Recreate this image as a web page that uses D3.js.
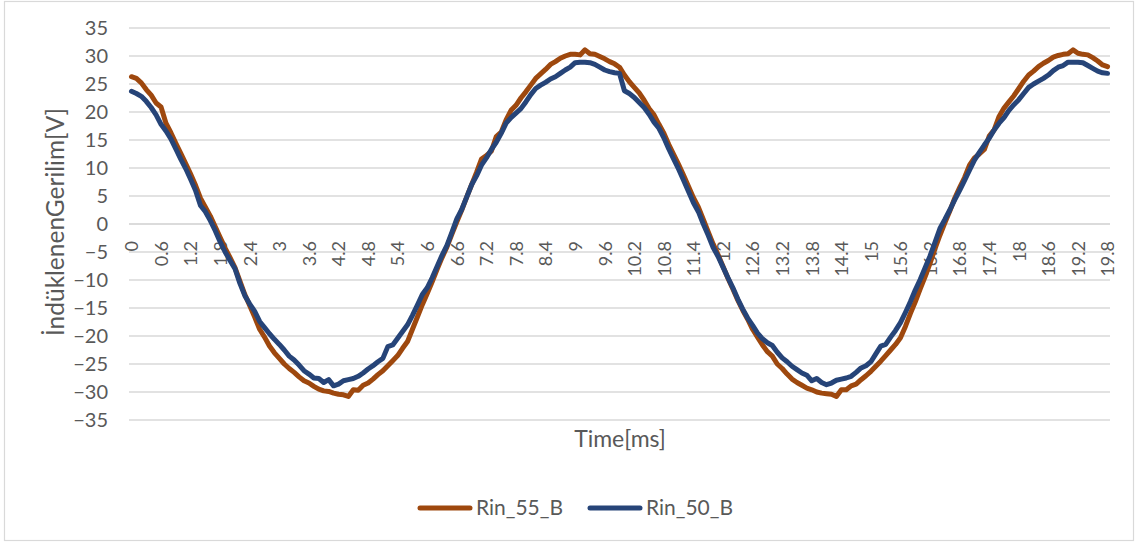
<!DOCTYPE html>
<html>
<head>
<meta charset="utf-8">
<script src="https://cdn.jsdelivr.net/npm/d3@7"></script>
<style>
  html, body { margin: 0; padding: 0; background: #ffffff; }
  svg { display: block; }
  text { font-family: Lato, "Liberation Sans", sans-serif; fill: #595959; }
</style>
</head>
<body>
<svg id="chart" width="1140" height="546"></svg>
<script>
// Categories: time in ms, 0 to 19.8 step 0.1
const categories = [
  "0","0.1","0.2","0.3","0.4","0.5","0.6","0.7","0.8","0.9",
  "1","1.1","1.2","1.3","1.4","1.5","1.6","1.7","1.8","1.9",
  "2","2.1","2.2","2.3","2.4","2.5","2.6","2.7","2.8","2.9",
  "3","3.1","3.2","3.3","3.4","3.5","3.6","3.7","3.8","3.9",
  "4","4.1","4.2","4.3","4.4","4.5","4.6","4.7","4.8","4.9",
  "5","5.1","5.2","5.3","5.4","5.5","5.6","5.7","5.8","5.9",
  "6","6.1","6.2","6.3","6.4","6.5","6.6","6.7","6.8","6.9",
  "7","7.1","7.2","7.3","7.4","7.5","7.6","7.7","7.8","7.9",
  "8","8.1","8.2","8.3","8.4","8.5","8.6","8.7","8.8","8.9",
  "9","9.1","9.2","9.3","9.4","9.5","9.6","9.7","9.8","9.9",
  "10","10.1","10.2","10.3","10.4","10.5","10.6","10.7","10.8","10.9",
  "11","11.1","11.2","11.3","11.4","11.5","11.6","11.7","11.8","11.9",
  "12","12.1","12.2","12.3","12.4","12.5","12.6","12.7","12.8","12.9",
  "13","13.1","13.2","13.3","13.4","13.5","13.6","13.7","13.8","13.9",
  "14","14.1","14.2","14.3","14.4","14.5","14.6","14.7","14.8","14.9",
  "15","15.1","15.2","15.3","15.4","15.5","15.6","15.7","15.8","15.9",
  "16","16.1","16.2","16.3","16.4","16.5","16.6","16.7","16.8","16.9",
  "17","17.1","17.2","17.3","17.4","17.5","17.6","17.7","17.8","17.9",
  "18","18.1","18.2","18.3","18.4","18.5","18.6","18.7","18.8","18.9",
  "19","19.1","19.2","19.3","19.4","19.5","19.6","19.7","19.8"
];

// Shown tick labels (every 6th category)
const xTickLabels = ["0","0.6","1.2","1.8","2.4","3","3.6","4.2","4.8","5.4","6","6.6","7.2","7.8","8.4","9","9.6","10.2","10.8","11.4","12","12.6","13.2","13.8","14.4","15","15.6","16.2","16.8","17.4","18","18.6","19.2","19.8"];
const yTicks = [-35,-30,-25,-20,-15,-10,-5,0,5,10,15,20,25,30,35];

const seriesNames = ["Rin_55_B", "Rin_50_B"];

const rin55 = [
  26.3,26.0,25.2,24.0,23.0,21.6,20.9,18.0,16.3,14.4,
  12.6,10.8,8.9,6.9,4.6,3.0,1.4,-0.5,-2.4,-4.3,
  -6.0,-7.8,-10.2,-12.6,-14.6,-16.6,-18.8,-20.2,-21.8,-23.0,
  -24.0,-25.0,-25.8,-26.5,-27.3,-28.0,-28.4,-29.0,-29.5,-29.8,
  -29.9,-30.2,-30.4,-30.5,-30.8,-29.6,-29.7,-28.8,-28.4,-27.7,
  -26.9,-26.2,-25.3,-24.4,-23.5,-22.2,-21.0,-18.8,-16.6,-14.4,
  -12.4,-10.3,-8.1,-6.0,-4.1,-1.8,0.4,2.5,4.8,7.0,
  9.2,11.6,12.2,13.0,15.6,16.4,18.6,20.3,21.2,22.5,
  23.6,24.8,26.0,26.8,27.6,28.5,29.0,29.6,30.0,30.3,
  30.3,30.2,31.1,30.4,30.3,29.9,29.5,29.0,28.6,28.0,
  26.6,25.4,24.4,23.4,22.1,20.6,19.5,17.8,16.2,14.2,
  12.4,10.6,8.7,6.7,4.7,3.0,0.8,-1.4,-3.6,-5.5,
  -7.6,-9.7,-11.6,-13.6,-15.4,-17.0,-18.8,-20.2,-21.6,-22.8,
  -23.6,-25.0,-25.8,-26.8,-27.7,-28.3,-28.8,-29.3,-29.6,-30.0,
  -30.2,-30.3,-30.4,-30.8,-29.6,-29.6,-28.9,-28.6,-27.8,-27.1,
  -26.3,-25.4,-24.5,-23.5,-22.5,-21.5,-20.3,-18.3,-16.0,-13.9,
  -11.6,-9.4,-7.0,-4.4,-2.0,0.2,2.3,4.6,6.5,8.3,
  10.5,11.8,12.5,13.3,15.7,16.8,19.2,20.7,21.8,22.9,
  24.2,25.5,26.6,27.3,28.1,28.7,29.2,29.8,30.1,30.3,
  30.4,31.1,30.5,30.3,30.2,29.7,29.1,28.4,28.1
];

const rin50 = [
  23.7,23.3,22.8,21.9,20.8,19.5,17.8,16.6,15.2,13.4,
  11.6,9.9,8.0,6.0,3.3,2.2,0.6,-1.2,-3.2,-5.0,
  -6.5,-8.0,-10.6,-12.8,-14.3,-15.6,-17.4,-18.5,-19.6,-20.6,
  -21.5,-22.5,-23.6,-24.3,-25.2,-26.2,-26.8,-27.5,-27.6,-28.3,
  -27.8,-28.9,-28.6,-28.0,-27.8,-27.6,-27.2,-26.6,-25.9,-25.3,
  -24.6,-24.0,-21.9,-21.6,-20.4,-19.2,-18.0,-16.3,-14.5,-12.6,
  -11.4,-9.6,-7.6,-5.6,-3.8,-1.5,0.9,2.6,4.8,7.0,
  8.6,10.5,11.8,13.3,14.6,16.2,18.0,19.0,19.8,20.6,
  21.8,23.1,24.2,24.8,25.3,25.9,26.3,26.9,27.5,28.0,
  28.8,28.9,28.9,28.8,28.5,28.0,27.5,27.2,27.0,26.9,
  23.8,23.3,22.6,21.7,20.8,19.6,18.2,17.1,15.4,13.4,
  11.6,9.8,7.8,5.8,3.8,2.2,0.0,-2.0,-4.2,-5.8,
  -7.7,-9.6,-11.4,-13.4,-15.2,-16.8,-18.1,-19.5,-20.5,-21.2,
  -21.7,-22.9,-23.9,-24.6,-25.4,-26.0,-26.6,-27.0,-28.0,-27.6,
  -28.3,-28.7,-28.4,-27.9,-27.7,-27.5,-27.2,-26.5,-25.7,-25.3,
  -24.6,-23.2,-21.8,-21.5,-20.2,-19.0,-17.6,-15.8,-13.9,-11.8,
  -9.9,-7.8,-5.7,-3.3,-0.8,0.8,2.5,4.3,6.0,7.8,
  9.6,11.4,12.8,14.1,15.3,16.8,18.0,19.0,20.3,21.3,
  22.2,23.3,24.4,25.0,25.5,26.0,26.6,27.4,28.0,28.3,
  28.9,28.9,28.9,28.8,28.3,27.8,27.3,27.0,26.9
];

const seriesColors = ["#9E480E", "#264478"];

const svg = d3.select("#chart");
const W = 1140, H = 546;

// chart frame
svg.append("rect")
  .attr("x", 4.5).attr("y", 1.5)
  .attr("width", W - 11).attr("height", H - 7)
  .attr("fill", "#ffffff")
  .attr("stroke", "#d9d9d9").attr("stroke-width", 1.2);

const plot = { left: 129, right: 1110, top: 28, bottom: 420 };

const x = d3.scalePoint()
  .domain(categories)
  .range([plot.left, plot.right])
  .padding(0.5);

const y = d3.scaleLinear()
  .domain([-35, 35])
  .range([plot.bottom, plot.top]);

// gridlines
svg.append("g")
  .selectAll("line")
  .data(yTicks)
  .join("line")
  .attr("x1", plot.left).attr("x2", plot.right)
  .attr("y1", d => y(d)).attr("y2", d => y(d))
  .attr("stroke", "#d9d9d9").attr("stroke-width", 1.3);

// y axis labels
const yAxis = d3.axisLeft(y).tickValues(yTicks).tickSize(0).tickPadding(0);
const gy = svg.append("g").attr("transform", `translate(${plot.left - 21},0)`).call(yAxis);
gy.select(".domain").remove();
gy.selectAll("text")
  .attr("font-size", 20)
  .attr("fill", "#595959")
  .style("font-family", "Lato, 'Liberation Sans', sans-serif");

// x axis (category) at y = 0
const xAxis = d3.axisBottom(x).tickValues(xTickLabels).tickSize(0).tickPadding(0);
const gx = svg.append("g").attr("transform", `translate(0,${y(0)})`).call(xAxis);
gx.select(".domain").attr("stroke", "#d9d9d9").attr("stroke-width", 1.3)
  .attr("d", `M${plot.left},0H${plot.right}`);
gx.selectAll(".tick text")
  .attr("font-size", 18)
  .attr("fill", "#595959")
  .style("font-family", "Lato, 'Liberation Sans', sans-serif")
  .attr("text-anchor", "end")
  .attr("y", 0).attr("dy", "0.35em")
  .attr("transform", "translate(0,17) rotate(-90)");

// lines
const line = d3.line()
  .x((d, i) => x(categories[i]))
  .y(d => y(d));

[rin55, rin50].forEach((vals, k) => {
  svg.append("path")
    .datum(vals)
    .attr("fill", "none")
    .attr("stroke", seriesColors[k])
    .attr("stroke-width", 5)
    .attr("stroke-linejoin", "round")
    .attr("stroke-linecap", "round")
    .attr("d", line);
});

// axis titles
svg.append("text")
  .attr("transform", `translate(64,${(plot.top + plot.bottom) / 2 - 2}) rotate(-90)`)
  .attr("text-anchor", "middle")
  .attr("font-size", 24.5)
  .text("İndüklenenGerilim[V]");

svg.append("text")
  .attr("x", 620).attr("y", 447)
  .attr("text-anchor", "middle")
  .attr("font-size", 23)
  .text("Time[ms]");

// legend
const legendItems = [
  { name: seriesNames[0], color: seriesColors[0], x: 418 },
  { name: seriesNames[1], color: seriesColors[1], x: 588 }
];
const lg = svg.append("g");
legendItems.forEach(it => {
  lg.append("line")
    .attr("x1", it.x + 2).attr("x2", it.x + 52)
    .attr("y1", 508).attr("y2", 508)
    .attr("stroke", it.color).attr("stroke-width", 5)
    .attr("stroke-linecap", "round");
  lg.append("text")
    .attr("x", it.x + 58).attr("y", 515)
    .attr("font-size", 21)
    .text(it.name);
});
</script>
</body>
</html>
